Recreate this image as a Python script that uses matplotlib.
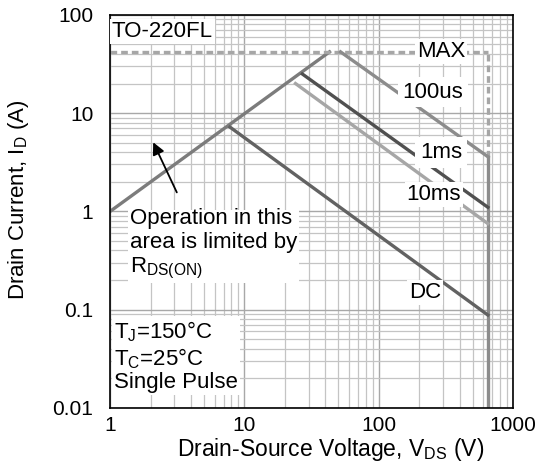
import matplotlib
matplotlib.use('Agg')
import matplotlib.pyplot as plt

# safe operating area
rds_v = [1, 43]
rds_i = [1, 42]
max_v = [1, 650]
max_i = [42, 42]
us100_v = [52, 650]
us100_i = [42, 3.6]
ms1_v = [27, 650]
ms1_i = [25, 1.1]
ms10_v = [24, 650]
ms10_i = [20, 0.75]
dc_v = [7.8, 650]
dc_i = [7.2, 0.088]
bv_v = 650

plt.rcParams.update({
    "font.family": ["Liberation Sans", "DejaVu Sans"],
    "font.size": 15,
    "mathtext.fontset": "custom",
    "mathtext.rm": "Liberation Sans",
})

fig = plt.figure(figsize=(5.4, 4.65), dpi=100)
ax = fig.add_axes([0.204, 0.123, 0.746, 0.845])
ax.set_xscale('log')
ax.set_yscale('log')
ax.set_xlim(1, 1000)
ax.set_ylim(0.01, 100)

ax.grid(True, which='major', color='#a8a8a8', lw=1.0)
ax.grid(True, which='minor', color='#c4c4c4', lw=0.9)
ax.set_axisbelow(True)
ax.tick_params(which='both', length=0, labelsize=15)
ax.tick_params(axis='y', pad=12)
ax.tick_params(axis='x', pad=6)
ax.set_xticks([1, 10, 100, 1000], ['1', '10', '100', '1000'])
ax.set_yticks([0.01, 0.1, 1, 10, 100], ['0.01', '0.1', '1', '10', '100'])
for s in ax.spines.values():
    s.set_linewidth(1.2)

lw = 2.4
ax.plot(rds_v, rds_i, color='#7c7c7c', lw=lw)
ax.plot(max_v, max_i, color='#a6a6a6', lw=lw, ls=(0, (2, 1.2)))
ax.plot([bv_v, bv_v], [us100_i[1], max_i[0]], color='#a6a6a6', lw=lw, ls=(0, (2, 1.2)))
ax.plot([bv_v, bv_v], [0.01, us100_i[1]], color='#8c8c8c', lw=lw)
ax.plot(us100_v, us100_i, color='#8c8c8c', lw=lw)
ax.plot(ms1_v, ms1_i, color='#505050', lw=lw)
ax.plot(ms10_v, ms10_i, color='#a6a6a6', lw=lw)
ax.plot(dc_v, dc_i, color='#626262', lw=lw)

box = dict(facecolor='white', edgecolor='none', pad=1.5)
wide = dict(facecolor='white', edgecolor='none', pad=3.5)
fs = 16
ax.text(1.03, 87, 'TO-220FL', fontsize=fs, va='top', ha='left', bbox=box)
ax.text(292, 42, 'MAX', fontsize=fs, va='center', ha='center', bbox=box)
ax.text(254, 16.4, '100us', fontsize=fs, va='center', ha='center', bbox=wide)
ax.text(292, 4.0, '1ms', fontsize=fs, va='center', ha='center', bbox=wide)
ax.text(258, 1.5, '10ms', fontsize=fs, va='center', ha='center', bbox=box)
ax.text(221, 0.148, 'DC', fontsize=fs, va='center', ha='center', bbox=box)
ax.text(1.4, 1.08, 'Operation in this\narea is limited by\nR$_{\\mathregular{DS(ON)}}$',
        fontsize=fs, va='top', ha='left', linespacing=1.18, bbox=box)
ax.text(1.07, 0.08, 'T$_{\\mathregular{J}}$=150°C\nT$_{\\mathregular{C}}$=25°C\nSingle Pulse',
        fontsize=fs, va='top', ha='left', linespacing=1.12, bbox=box)
ax.annotate('', xy=(2.05, 5.35), xytext=(3.2, 1.47),
            arrowprops=dict(arrowstyle='-|>', color='black', lw=1.3, mutation_scale=18))

ax.set_xlabel('Drain-Source Voltage, V$_{\\mathregular{DS}}$ (V)', fontsize=16.5)
ax.set_ylabel('Drain Current, I$_{\\mathregular{D}}$ (A)', fontsize=16)
ax.xaxis.set_label_coords(0.548, -0.107)
ax.yaxis.set_label_coords(-0.228, 0.529)
ax.xaxis.label.set_va('center')
ax.yaxis.label.set_va('center')

fig.savefig('out.png', dpi=100)
